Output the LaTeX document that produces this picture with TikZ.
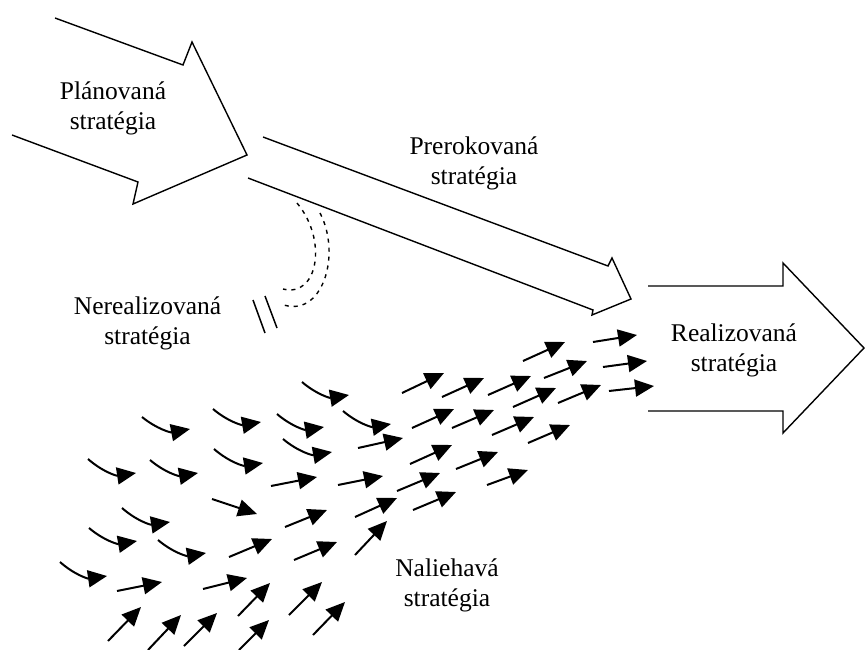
\documentclass[tikz,border=0pt]{standalone}
\usepackage{fontspec}
\setmainfont{Liberation Serif}
\usetikzlibrary{arrows.meta}

\begin{document}
\begin{tikzpicture}[
  x=1pt, y=-1pt,
  lbl/.style={align=center, inner sep=0pt, font=\fontsize{25.5}{30}\selectfont},
  outline/.style={line width=1.4pt, line join=miter},
  arr/.style={-{Triangle[length=19pt,width=17pt]}, line width=2pt},
  trace/.style={line width=1.4pt, dash pattern=on 4pt off 5pt}
]
  \useasboundingbox (0,0) rectangle (865,650);

  \draw[outline] (55,18) -- (183,65) -- (192,42) -- (247,155) -- (133,204) -- (138,182) -- (12,135);
  \draw[outline] (263,137) -- (608,266) -- (612,258) -- (631,299) -- (592,315) -- (593,310) -- (248,178);
  \draw[outline] (648,286) -- (783,286) -- (783,263) -- (864,348) -- (783,433) -- (783,411) -- (648,411);

  \node[lbl] (plan) at (113,108) {Plánovaná\\stratégia};
  \node[lbl] (deliberate) at (474,163.5) {Prerokovaná\\stratégia};
  \node[lbl] (unrealized) at (147.5,323.5) {Nerealizovaná\\stratégia};
  \node[lbl] (realized) at (734,350.5) {Realizovaná\\stratégia};
  \node[lbl] (emergent) at (447,585) {Naliehavá\\stratégia};

  \draw[trace] (297,203) .. controls (328,240) and (318,298) .. (283,289);
  \draw[trace] (320,213) .. controls (342,255) and (322,320) .. (281,304);
  \draw[line width=1.5pt] (253,300) -- (265,333);
  \draw[line width=1.5pt] (265,296) -- (277,328);

  \foreach \ax/\ay/\bx/\by in {302/382/349/395, 213/409/261/422, 277/414/324/427,
    142/417/190/429, 343/411/391/424, 283/439/332/452, 214/449/263/463,
    88/459/136/473, 150/460/198/473, 122/508/170/522, 89/528/137/541,
    158/540/206/553, 60/562/107/576}
    \draw[arr] (\ax,\ay) to[bend right=25] (\bx,\by);

  \foreach \ax/\ay/\bx/\by in {212/499/257/514, 271/486/317/477, 285/527/327/510,
    229/557/272/539, 294/560/337/542, 117/591/162/582, 203/589/247/578,
    238/616/270/583, 289/615/322/582, 108/641/141/607, 148/650/181/615,
    184/646/217/613, 239/650/269/620, 313/635/345/602, 338/485/383/476,
    397/491/440/473, 487/485/528/470, 355/517/397/498, 413/510/456/492,
    355/555/387/521, 402/393/444/373, 412/428/454/409, 358/448/403/438,
    410/464/452/445, 442/397/484/378, 488/395/531/376, 523/361/565/342,
    593/342/637/335, 544/378/587/361, 603/367/647/361, 513/407/556/388,
    558/403/601/385, 609/391/654/386, 452/428/494/410, 492/435/534/417,
    528/443/570/425, 456/469/498/452}
    \draw[arr] (\ax,\ay) -- (\bx,\by);
\end{tikzpicture}
\end{document}
